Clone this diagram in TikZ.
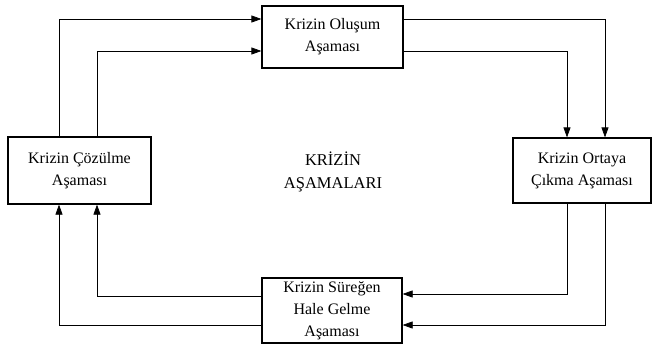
\documentclass[tikz,border=0pt]{standalone}
\usepackage{fontspec}
\setmainfont{Liberation Serif}
\usetikzlibrary{arrows.meta}
\begin{document}
\begin{tikzpicture}[x=1pt,y=-1pt,
  stage/.style={draw,line width=1.2pt,inner sep=0pt,font=\fontsize{16}{22}\selectfont,align=center},
  flow/.style={line width=0.7pt,-{Triangle[length=10pt,width=7pt]}},
  lbl/.style={font=\fontsize{16.5}{23}\selectfont,align=center}]
\useasboundingbox (0,0) rectangle (653,346);
\node[stage,minimum width=141pt,minimum height=62pt] (top) at (332.5,37) {Krizin Oluşum\\Aşaması};
\node[stage,minimum width=143pt,minimum height=67pt] (left) at (79.5,170.5) {Krizin Çözülme\\Aşaması};
\node[stage,minimum width=138pt,minimum height=65pt] (right) at (582,170.5) {Krizin Ortaya\\Çıkma Aşaması};
\node[stage,minimum width=140pt,minimum height=65pt] (bot) at (332,310.5) {Krizin Süreğen\\Hale Gelme\\Aşaması};
\node[lbl] (center) at (333,172) {KRİZİN\\AŞAMALARI};
% anchor points on the box edges
\coordinate (lt1) at (left.north -| 59,0);
\coordinate (lt2) at (left.north -| 97,0);
\coordinate (lb1) at (left.south -| 59,0);
\coordinate (lb2) at (left.south -| 97,0);
\coordinate (rt1) at (right.north -| 605,0);
\coordinate (rt2) at (right.north -| 567,0);
\coordinate (rb1) at (right.south -| 605,0);
\coordinate (rb2) at (right.south -| 567,0);
% left -> top
\draw[flow] (lt1) |- (top.west |- 0,19);
\draw[flow] (lt2) |- (top.west |- 0,51);
% top -> right
\draw[flow] (top.east |- 0,19) -| (rt1);
\draw[flow] (top.east |- 0,51) -| (rt2);
% right -> bottom
\draw[flow] (rb2) |- (bot.east |- 0,294);
\draw[flow] (rb1) |- (bot.east |- 0,325);
% bottom -> left
\draw[flow] (bot.west |- 0,296) -| (lb2);
\draw[flow] (bot.west |- 0,325) -| (lb1);
\end{tikzpicture}
\end{document}
